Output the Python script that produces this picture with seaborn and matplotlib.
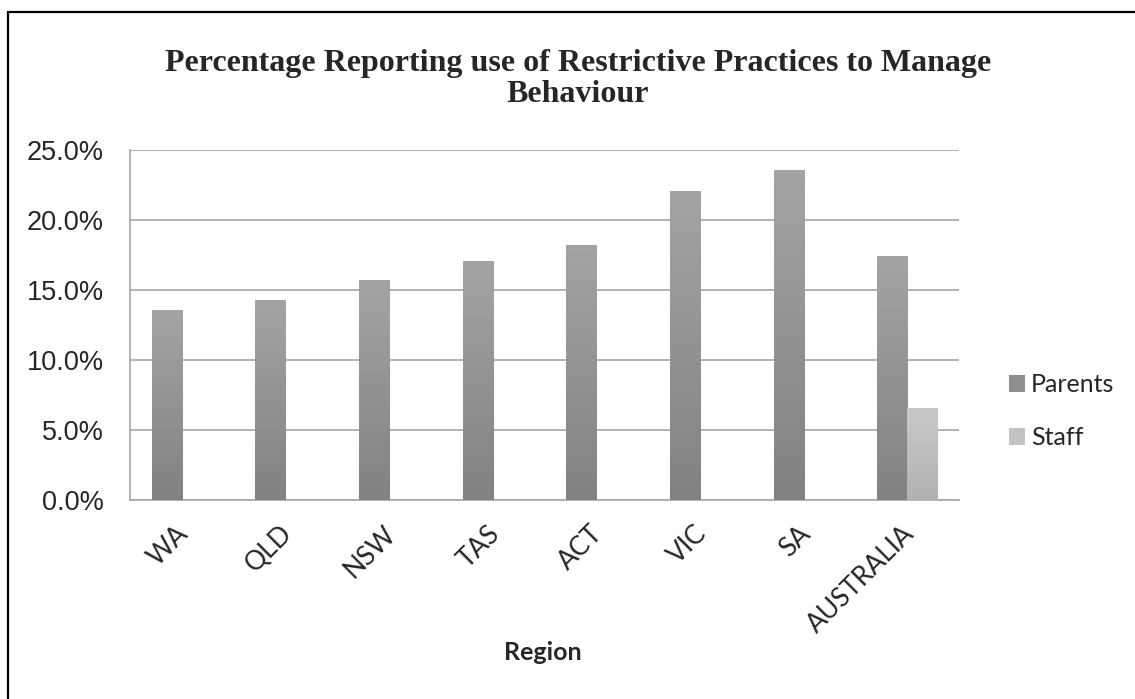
import matplotlib
matplotlib.use("Agg")
import matplotlib.pyplot as plt
import matplotlib.transforms as mtransforms
from matplotlib.colors import LinearSegmentedColormap
from matplotlib.patches import Patch
from matplotlib.lines import Line2D
from matplotlib.ticker import PercentFormatter, FixedLocator
import seaborn as sns
import pandas as pd
import numpy as np

# chart values (percent)
regions = ["WA", "QLD", "NSW", "TAS", "ACT", "VIC", "SA", "AUSTRALIA"]
parents = [13.6, 14.3, 15.7, 17.1, 18.2, 22.1, 23.6, 17.4]
staff_regions = ["AUSTRALIA"]
staff = [6.6]
series = ["Parents", "Staff"]
y_ticks = [0, 5, 10, 15, 20, 25]

# gradient colours (bottom, top) per series
grad = {"Parents": ("#828282", "#a4a4a4"), "Staff": ("#b2b2b2", "#c9c9c9")}

df = pd.concat([
    pd.DataFrame({"Region": regions, "Value": parents, "Group": "Parents"}),
    pd.DataFrame({"Region": staff_regions, "Value": staff, "Group": "Staff"}),
], ignore_index=True)

sns.set_style("white")
plt.rcParams["font.family"] = ["Lato", "DejaVu Sans"]

fig = plt.figure(figsize=(11.35, 6.99), dpi=100)
ax = fig.add_axes([130 / 1135, 199 / 699, 829 / 1135, 350 / 699])

sns.barplot(data=df, x="Region", y="Value", hue="Group", order=regions,
            hue_order=series, width=0.58, ax=ax, legend=False, errorbar=None)

# replace flat fills with vertical gradients (dark at bottom)
bars = [p for p in ax.patches if p.get_height() > 0]
grad_img = np.linspace(0, 1, 256).reshape(-1, 1)
for p in bars:
    x0, w, h = p.get_x(), p.get_width(), p.get_height()
    # decide series by horizontal offset inside the category
    centre = x0 + w / 2
    grp = "Parents" if centre - round(centre) < 0 else "Staff"
    cmap = LinearSegmentedColormap.from_list(grp, grad[grp])
    im = ax.imshow(grad_img, cmap=cmap, origin="lower", aspect="auto",
                   extent=[x0, x0 + w, 0, h], zorder=3)
    im.set_clip_path(p)
    p.set_facecolor("none")
    p.set_edgecolor("none")

ax.set_xlim(-0.5, len(regions) - 0.5)
ax.set_ylim(0, 25)
ax.yaxis.set_major_locator(FixedLocator(y_ticks))
ax.yaxis.set_major_formatter(PercentFormatter(xmax=100, decimals=1))
ax.grid(axis="y", color="#a6a6a6", linewidth=1.2)
ax.set_axisbelow(True)

for s in ["top", "right"]:
    ax.spines[s].set_visible(False)
for s in ["left", "bottom"]:
    ax.spines[s].set_color("#a6a6a6")
    ax.spines[s].set_linewidth(1.2)

ax.tick_params(axis="y", length=6, width=1.2, color="#a6a6a6", pad=13,
               labelsize=19.5)
for lbl in ax.get_yticklabels():
    lbl.set_fontfamily(["Liberation Sans", "DejaVu Sans"])

ax.set_xticks(range(len(regions)))
ax.set_xticks(np.arange(-0.5, len(regions), 1), minor=True)
ax.tick_params(axis="x", which="major", length=0, pad=15, labelsize=19)
ax.tick_params(axis="x", which="minor", length=7, width=1.2, color="#a6a6a6")
ax.set_xticklabels(regions, rotation=45, ha="right", va="top",
                   rotation_mode="anchor")
shift = mtransforms.ScaledTranslation(-6 / 100, 0, fig.dpi_scale_trans)
for lbl in ax.get_xticklabels():
    lbl.set_transform(lbl.get_transform() + shift)

ax.set_xlabel("")
ax.set_ylabel("")

fig.text(543 / 1135, 1 - 653 / 699, "Region", ha="center", va="center",
         fontsize=18, fontweight="bold")

fig.text(578 / 1135, 1 - 79 / 699,
         "Percentage Reporting use of Restrictive Practices to Manage\nBehaviour",
         ha="center", va="center", fontsize=23, fontweight="bold",
         family=["Liberation Serif", "DejaVu Serif"], linespacing=1.1)

handles = [Patch(facecolor="#8e8e8e", edgecolor="none"),
           Patch(facecolor="#c2c2c2", edgecolor="none")]
fig.legend(handles, series, loc="center left",
           bbox_to_anchor=(996 / 1135, 1 - 411 / 699), frameon=False,
           fontsize=18, handlelength=0.65, handleheight=0.65,
           handletextpad=0.25, labelspacing=1.2, borderpad=0)

# chart-area border (only left and top edges fall inside the image)
fig.add_artist(Line2D([8 / 1135, 8 / 1135], [0, 1 - 12 / 699],
                      transform=fig.transFigure, color="black", linewidth=1.6))
fig.add_artist(Line2D([8 / 1135, 1], [1 - 12 / 699, 1 - 12 / 699],
                      transform=fig.transFigure, color="black", linewidth=1.6))

fig.savefig("out.png", dpi=100, facecolor="white")
